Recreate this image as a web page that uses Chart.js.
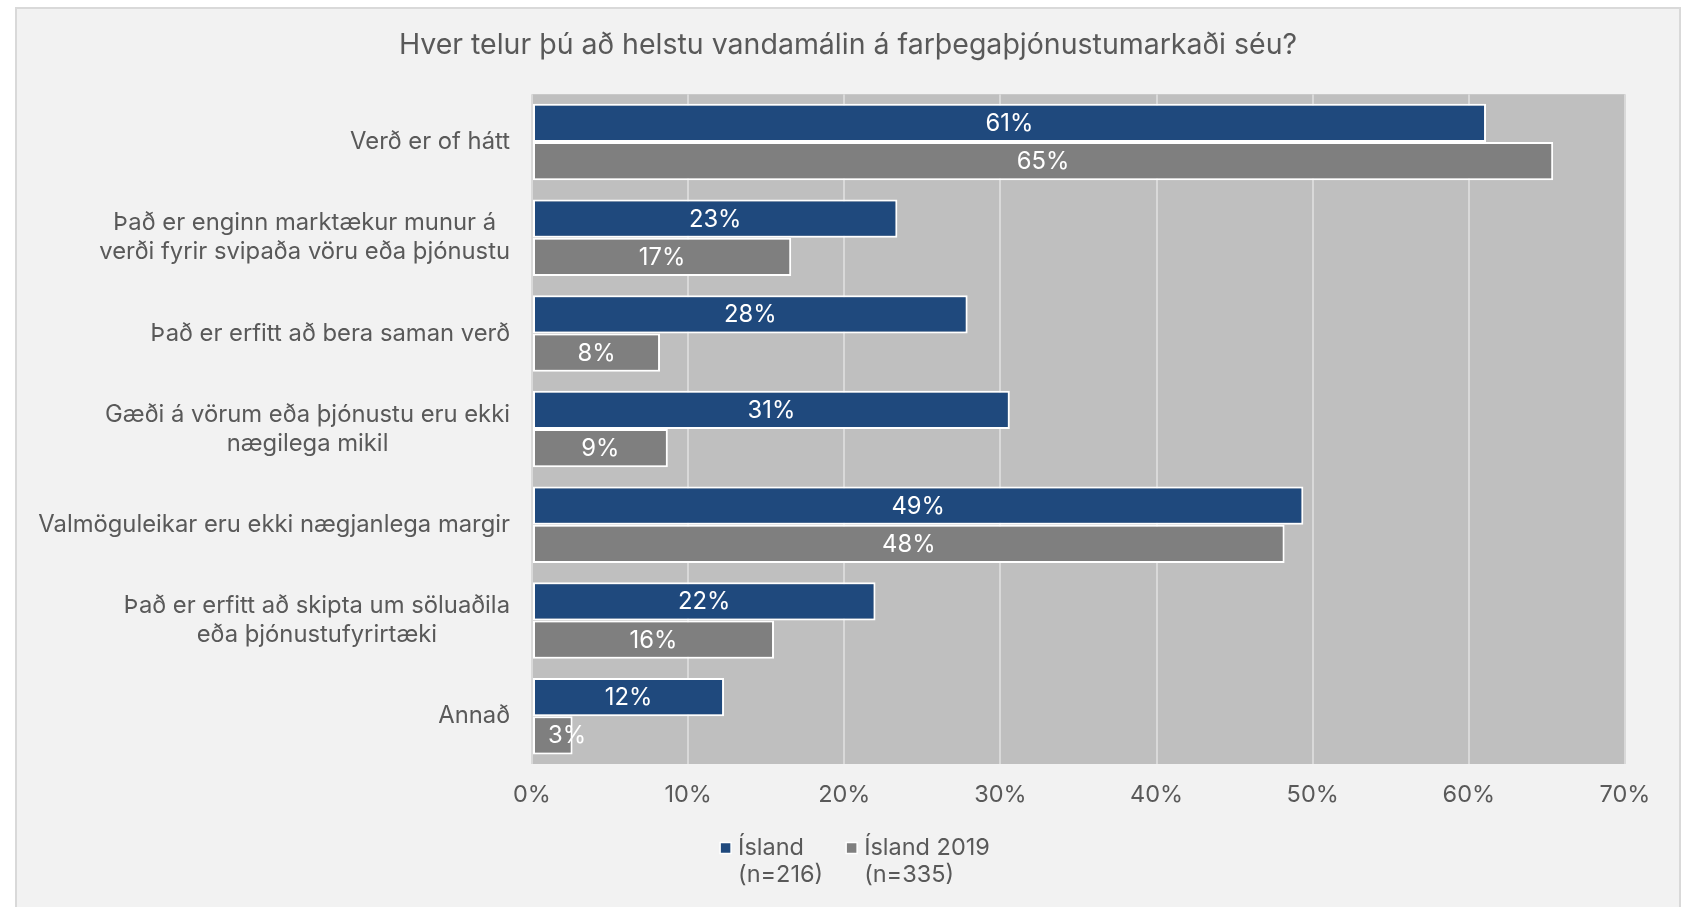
<!DOCTYPE html>
<html lang="is">
<head>
<meta charset="utf-8">
<script src="https://cdn.jsdelivr.net/npm/chart.js@4.4.1/dist/chart.umd.min.js"></script>
<style>
  html, body { margin: 0; padding: 0; background: #fff; overflow: hidden; }
  #box { position: absolute; left: 15px; top: 7px; width: 1662px; height: 902px;
         border: 2px solid #d9d9d9; border-bottom: none; background: #f2f2f2; }
  canvas { display: block; }
</style>
</head>
<body>
<div id="box"><canvas id="chart" width="1662" height="902"></canvas></div>
<script>
const chartTitle = 'Hver telur þú að helstu vandamálin á farþegaþjónustumarkaði séu?';
const categories = [
  ['Verð er of hátt'],
  ['Það er enginn marktækur munur á', 'verði fyrir svipaða vöru eða þjónustu'],
  ['Það er erfitt að bera saman verð'],
  ['Gæði á vörum eða þjónustu eru ekki', 'nægilega mikil'],
  ['Valmöguleikar eru ekki nægjanlega margir'],
  ['Það er erfitt að skipta um söluaðila', 'eða þjónustufyrirtæki'],
  ['Annað']
];
const island = [61.1, 23.4, 27.9, 30.6, 49.4, 22.0, 12.3];
const island2019 = [65.4, 16.6, 8.2, 8.7, 48.2, 15.5, 2.6];
const legendLabels = [['Ísland', '(n=216)'], ['Ísland 2019', '(n=335)']];
const tickLabels = ['0%', '10%', '20%', '30%', '40%', '50%', '60%', '70%'];

const FONT = "Inter, 'Noto Sans', sans-serif";
const TEXT = '#595959';
const colors = ['#1f497d', '#7f7f7f'];

Chart.defaults.font.family = FONT;
Chart.defaults.color = TEXT;

// grey plot background under the gridlines
const plotBg = {
  id: 'plotBg',
  beforeDraw(chart) {
    const a = chart.chartArea;
    chart.ctx.save();
    chart.ctx.fillStyle = '#bfbfbf';
    chart.ctx.fillRect(a.left, a.top, a.right - a.left, a.bottom - a.top);
    chart.ctx.restore();
  }
};

// category labels: block right aligned, lines centred inside the block
const yLabels = {
  id: 'yLabels',
  afterDraw(chart) {
    const ctx = chart.ctx;
    const y = chart.scales.y;
    ctx.save();
    ctx.font = '23.8px ' + FONT;
    ctx.fillStyle = TEXT;
    ctx.textAlign = 'center';
    ctx.textBaseline = 'middle';
    categories.forEach((lines, i) => {
      const py = y.getPixelForTick(i);
      const w = Math.max(...lines.map(t => ctx.measureText(t).width));
      const cx = y.right - 22 - w / 2;
      lines.forEach((t, j) => {
        ctx.fillText(t, cx, py + (j - (lines.length - 1) / 2) * 29);
      });
    });
    ctx.restore();
  }
};

const barLabels = {
  id: 'barLabels',
  afterDatasetsDraw(chart) {
    const ctx = chart.ctx;
    ctx.save();
    ctx.font = '23.8px ' + FONT;
    ctx.fillStyle = '#ffffff';
    ctx.textAlign = 'center';
    ctx.textBaseline = 'middle';
    chart.data.datasets.forEach((ds, di) => {
      chart.getDatasetMeta(di).data.forEach((bar, i) => {
        const p = bar.getProps(['x', 'y', 'base'], true);
        const w = ctx.measureText(Math.round(ds.data[i]) + '%').width;
        // narrow bars: label starts a little inside the bar, like the original
        const cx = Math.max((p.x + p.base) / 2, p.base + 15 + w / 2);
        ctx.fillText(Math.round(ds.data[i]) + '%', cx, p.y + 1);
      });
    });
    ctx.restore();
  }
};

const legendBox = {
  id: 'legendBox',
  afterDraw(chart) {
    const ctx = chart.ctx;
    ctx.save();
    ctx.font = '23.5px ' + FONT;
    ctx.textBaseline = 'middle';
    ctx.textAlign = 'left';
    const widths = legendLabels.map(l => Math.max(...l.map(t => ctx.measureText(t).width)));
    const total = widths.reduce((a, b) => a + b, 0) + 19 * widths.length + 23 * (widths.length - 1);
    let x = chart.width / 2 + 8 - total / 2;
    const y = chart.chartArea.bottom + 84;
    legendLabels.forEach((lines, i) => {
      ctx.fillStyle = colors[i];
      ctx.fillRect(x, y - 5.5, 11, 11);
      ctx.strokeStyle = '#ffffff';
      ctx.lineWidth = 1.5;
      ctx.strokeRect(x, y - 5.5, 11, 11);
      ctx.fillStyle = TEXT;
      lines.forEach((t, j) => ctx.fillText(t, x + 18, y + j * 27));
      x += 18 + widths[i] + 23;
    });
    ctx.restore();
  }
};

new Chart(document.getElementById('chart'), {
  type: 'bar',
  data: {
    labels: categories,
    datasets: [
      { label: legendLabels[0].join(' '), data: island, backgroundColor: colors[0] },
      { label: legendLabels[1].join(' '), data: island2019, backgroundColor: colors[1] }
    ]
  },
  options: {
    indexAxis: 'y',
    responsive: false,
    animation: false,
    datasets: {
      bar: {
        borderColor: '#ffffff',
        borderWidth: 2,
        borderSkipped: false,
        categoryPercentage: 0.8,
        barPercentage: 1
      }
    },
    layout: { padding: { left: 0, right: 0, top: 0, bottom: 103 } },
    scales: {
      x: {
        min: 0,
        max: 70,
        ticks: {
          stepSize: 10,
          padding: 17,
          color: TEXT,
          font: { size: 23.5 },
          callback: (v, i) => tickLabels[i]
        },
        grid: { color: '#d9d9d9', lineWidth: 2, drawTicks: false },
        border: { display: false },
        afterFit: s => { s.height = 44; }
      },
      y: {
        ticks: { display: false },
        grid: { display: false },
        border: { display: false },
        afterFit: s => { s.width = 515; }
      },
      // empty right axis keeps the right margin without shifting the title
      yRight: {
        type: 'linear',
        axis: 'y',
        position: 'right',
        ticks: { display: false },
        grid: { display: false },
        border: { display: false },
        afterFit: s => { s.width = 54; }
      }
    },
    plugins: {
      title: {
        display: true,
        text: chartTitle,
        color: TEXT,
        font: { size: 28.5, weight: 'normal' },
        padding: { top: 19, bottom: 32 }
      },
      legend: { display: false },
      tooltip: { enabled: false }
    }
  },
  plugins: [plotBg, yLabels, barLabels, legendBox]
});
</script>
</body>
</html>
